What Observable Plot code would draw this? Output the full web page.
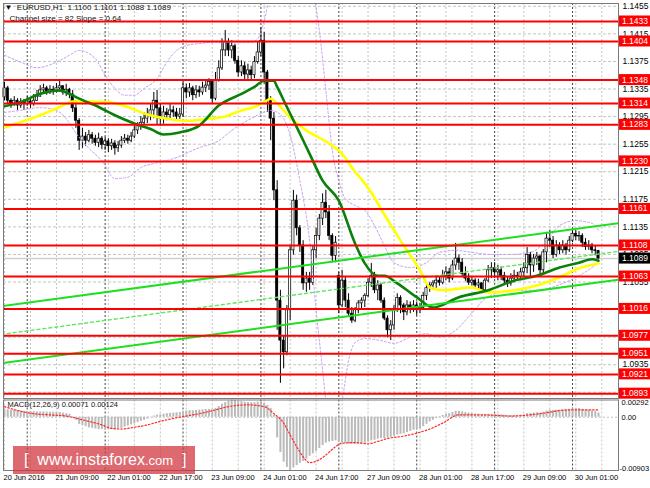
<!DOCTYPE html>
<html>
<head>
<meta charset="utf-8">
<script src="https://cdn.jsdelivr.net/npm/d3@7"></script>
<script src="https://cdn.jsdelivr.net/npm/@observablehq/plot@0.6"></script>
<style>
  html,body{margin:0;padding:0;background:#fff;}
  #wrap{position:relative;width:650px;height:488px;overflow:hidden;background:#fff;}
  #main,#macd{position:absolute;left:0;}
  #main{top:0;}
  #macd{top:396px;}
  #main svg,#macd svg{display:block;}
  #wm{position:absolute;left:13px;top:446px;width:182px;height:28px;background:rgba(208,48,58,0.72);color:#fff;
      font-family:"Liberation Sans",Arial,sans-serif;font-size:16px;line-height:28px;white-space:nowrap;box-sizing:border-box;padding-left:11px;}
  #wm .com{font-size:13px;}
</style>
</head>
<body>
<div id="wrap">
  <div id="main"></div>
  <div id="macd"></div>
  <div id="wm">[&nbsp;&nbsp;www.instaforex<span class="com">.com</span>&nbsp;&nbsp;]</div>
</div>
<script>
// ---- Candles, one array per trading day: [open, high, low, close] (EURUSD H1) ----
const jun20 = [
[1.1323,1.1345,1.1318,1.1336],[1.1336,1.1339,1.1314,1.1318],[1.1318,1.1321,1.1307,1.1314],[1.1314,1.1324,1.1310,1.1318],
[1.1318,1.1321,1.1304,1.1311],[1.1311,1.1321,1.1307,1.1316],[1.1316,1.1320,1.1304,1.1313]];
const jun21 = [
[1.1313,1.1324,1.1310,1.1317],[1.1317,1.1321,1.1307,1.1313],[1.1313,1.1327,1.1310,1.1318],[1.1318,1.1333,1.1317,1.1324],
[1.1324,1.1340,1.1323,1.1333],[1.1333,1.1342,1.1329,1.1336],[1.1336,1.1339,1.1326,1.1330],[1.1330,1.1340,1.1327,1.1334],
[1.1334,1.1339,1.1326,1.1331],[1.1331,1.1343,1.1329,1.1336],[1.1336,1.1347,1.1330,1.1339],[1.1339,1.1340,1.1326,1.1330],
[1.1330,1.1342,1.1324,1.1334],[1.1334,1.1336,1.1321,1.1327],[1.1327,1.1333,1.1301,1.1307],[1.1307,1.1318,1.1278,1.1289],
[1.1289,1.1292,1.1246,1.1260],[1.1260,1.1278,1.1249,1.1266],[1.1266,1.1272,1.1252,1.1260],[1.1260,1.1275,1.1257,1.1268],
[1.1268,1.1272,1.1255,1.1263],[1.1263,1.1268,1.1252,1.1257],[1.1257,1.1271,1.1250,1.1263],[1.1263,1.1266,1.1247,1.1254]];
const jun22 = [
[1.1254,1.1265,1.1246,1.1259],[1.1259,1.1263,1.1243,1.1252],[1.1252,1.1262,1.1246,1.1256],[1.1256,1.1260,1.1239,1.1249],
[1.1249,1.1259,1.1243,1.1253],[1.1253,1.1266,1.1249,1.1260],[1.1260,1.1269,1.1256,1.1263],[1.1263,1.1268,1.1255,1.1260],
[1.1260,1.1272,1.1257,1.1266],[1.1266,1.1282,1.1263,1.1275],[1.1275,1.1286,1.1269,1.1281],[1.1281,1.1295,1.1275,1.1286],
[1.1286,1.1301,1.1282,1.1292],[1.1292,1.1307,1.1285,1.1297],[1.1297,1.1314,1.1289,1.1304],[1.1304,1.1330,1.1292,1.1318],
[1.1318,1.1333,1.1282,1.1307],[1.1307,1.1313,1.1281,1.1292],[1.1292,1.1310,1.1284,1.1301],[1.1301,1.1307,1.1289,1.1297],
[1.1297,1.1313,1.1292,1.1304],[1.1304,1.1310,1.1294,1.1301],[1.1301,1.1307,1.1289,1.1295],[1.1295,1.1307,1.1291,1.1298]];
const jun23 = [
[1.1298,1.1347,1.1294,1.1336],[1.1336,1.1342,1.1321,1.1330],[1.1330,1.1343,1.1323,1.1336],[1.1336,1.1339,1.1318,1.1326],
[1.1326,1.1340,1.1321,1.1333],[1.1333,1.1339,1.1323,1.1330],[1.1330,1.1345,1.1326,1.1337],[1.1337,1.1347,1.1330,1.1340],
[1.1340,1.1350,1.1333,1.1345],[1.1345,1.1347,1.1313,1.1321],[1.1321,1.1359,1.1318,1.1347],[1.1347,1.1376,1.1345,1.1365],
[1.1365,1.1408,1.1362,1.1391],[1.1391,1.1420,1.1382,1.1403],[1.1403,1.1408,1.1382,1.1391],[1.1391,1.1405,1.1379,1.1397],
[1.1397,1.1400,1.1371,1.1376],[1.1376,1.1382,1.1352,1.1359],[1.1359,1.1376,1.1353,1.1368],[1.1368,1.1374,1.1347,1.1356],
[1.1356,1.1371,1.1349,1.1362],[1.1362,1.1368,1.1346,1.1355],[1.1355,1.1382,1.1350,1.1374],[1.1374,1.1403,1.1371,1.1388]];
const jun24 = [
[1.1388,1.1424,1.1382,1.1405],[1.1405,1.1417,1.1342,1.1359],[1.1359,1.1362,1.1301,1.1318],[1.1318,1.1324,1.1260,1.1292],
[1.1292,1.1301,1.1173,1.1188],[1.1188,1.1202,1.0985,1.1028],[1.1028,1.1043,1.0908,1.0970],[1.0970,1.0977,1.0929,1.0953],
[1.0953,1.1021,1.0948,1.1014],[1.1014,1.1108,1.0999,1.1101],[1.1101,1.1188,1.1094,1.1173],[1.1173,1.1181,1.1122,1.1133],
[1.1133,1.1137,1.1098,1.1108],[1.1108,1.1115,1.1043,1.1053],[1.1053,1.1069,1.1040,1.1060],[1.1060,1.1069,1.1043,1.1054],
[1.1054,1.1108,1.1050,1.1101],[1.1101,1.1133,1.1089,1.1122],[1.1122,1.1153,1.1115,1.1147],[1.1147,1.1183,1.1137,1.1170],
[1.1170,1.1188,1.1147,1.1156],[1.1156,1.1166,1.1115,1.1122],[1.1122,1.1125,1.1083,1.1093],[1.1093,1.1121,1.1083,1.1112]];
const jun27 = [
[1.1064,1.1069,1.1009,1.1021],[1.1021,1.1072,1.1018,1.1057],[1.1057,1.1062,1.1018,1.1028],[1.1028,1.1038,1.1004,1.1009],
[1.1009,1.1018,1.0995,1.0999],[1.0999,1.1018,1.0996,1.1014],[1.1014,1.1028,1.1009,1.1024],[1.1024,1.1032,1.1014,1.1028],
[1.1028,1.1038,1.1018,1.1035],[1.1035,1.1060,1.1032,1.1054],[1.1054,1.1082,1.1047,1.1064],[1.1064,1.1069,1.1038,1.1043],
[1.1043,1.1057,1.1028,1.1050],[1.1050,1.1053,1.1024,1.1028],[1.1028,1.1032,1.0999,1.1002],[1.1002,1.1006,1.0974,1.0985],
[1.0985,1.0999,1.0970,1.0992],[1.0992,1.1021,1.0985,1.1014],[1.1014,1.1038,1.1011,1.1032],[1.1032,1.1035,1.1009,1.1021],
[1.1021,1.1024,1.0999,1.1011],[1.1011,1.1028,1.1006,1.1021],[1.1021,1.1026,1.1009,1.1017],[1.1017,1.1028,1.1011,1.1021]];
const jun28 = [
[1.1021,1.1026,1.1006,1.1014],[1.1014,1.1024,1.1009,1.1017],[1.1017,1.1040,1.1014,1.1035],[1.1035,1.1053,1.1028,1.1046],
[1.1046,1.1054,1.1040,1.1050],[1.1050,1.1057,1.1043,1.1053],[1.1053,1.1063,1.1046,1.1057],[1.1057,1.1062,1.1049,1.1054],
[1.1054,1.1072,1.1051,1.1064],[1.1064,1.1077,1.1057,1.1069],[1.1069,1.1075,1.1054,1.1060],[1.1060,1.1086,1.1057,1.1079],
[1.1079,1.1111,1.1072,1.1089],[1.1089,1.1094,1.1072,1.1083],[1.1083,1.1089,1.1062,1.1067],[1.1067,1.1077,1.1056,1.1060],
[1.1060,1.1067,1.1050,1.1054],[1.1054,1.1063,1.1049,1.1057],[1.1057,1.1060,1.1046,1.1050],[1.1050,1.1059,1.1043,1.1053],
[1.1053,1.1054,1.1038,1.1043],[1.1043,1.1060,1.1040,1.1057],[1.1057,1.1079,1.1054,1.1072],[1.1072,1.1083,1.1060,1.1075]];
const jun29 = [
[1.1075,1.1083,1.1060,1.1069],[1.1069,1.1079,1.1057,1.1072],[1.1072,1.1077,1.1057,1.1064],[1.1064,1.1069,1.1051,1.1057],
[1.1057,1.1063,1.1047,1.1053],[1.1053,1.1067,1.1049,1.1060],[1.1060,1.1072,1.1054,1.1064],[1.1064,1.1069,1.1056,1.1062],
[1.1062,1.1075,1.1057,1.1069],[1.1069,1.1083,1.1063,1.1075],[1.1075,1.1105,1.1067,1.1094],[1.1094,1.1098,1.1062,1.1079],
[1.1079,1.1095,1.1069,1.1089],[1.1089,1.1098,1.1079,1.1092],[1.1092,1.1094,1.1062,1.1072],[1.1072,1.1102,1.1067,1.1098],
[1.1098,1.1127,1.1083,1.1118],[1.1118,1.1130,1.1105,1.1115],[1.1115,1.1121,1.1089,1.1094],[1.1094,1.1115,1.1091,1.1108],
[1.1108,1.1112,1.1095,1.1101],[1.1101,1.1115,1.1096,1.1108],[1.1108,1.1111,1.1094,1.1101],[1.1101,1.1121,1.1098,1.1115]];
const jun30 = [
[1.1115,1.1131,1.1112,1.1125],[1.1125,1.1130,1.1115,1.1121],[1.1121,1.1128,1.1114,1.1122],[1.1122,1.1125,1.1105,1.1112],
[1.1112,1.1118,1.1101,1.1106],[1.1106,1.1115,1.1101,1.1108],[1.1108,1.1111,1.1096,1.1101],[1.1101,1.1108,1.1093,1.1100],
[1.1100,1.1101,1.1088,1.1089]];

// ---- Moving averages (sampled along the curve: bar index / price) ----
const greenIdx = [0,5,11,17,20,23,29,34,40,45,49,54,60,66,73,77,80,83,84,87,90,94,98,103,108,111,115,117,121,127,132,140,149,157,164,171,177,181,183];
const greenVal = [1.1310,1.1316,1.1328,1.1333,1.1328,1.1321,1.1309,1.1297,1.1285,1.1277,1.1269,1.1272,1.1282,1.1311,1.1328,1.1338,1.1347,1.1347,1.1338,1.1309,1.1280,1.1241,1.1202,1.1173,1.1111,1.1082,1.1064,1.1064,1.1053,1.1033,1.1018,1.1033,1.1043,1.1057,1.1064,1.1076,1.1083,1.1088,1.1086];
const yellowIdx = [0,5,11,17,21,26,32,38,44,50,56,63,67,73,77,80,82,84,88,93,100,104,108,110,113,116,122,128,131,135,144,149,157,164,171,177,183];
const yellowVal = [1.1279,1.1287,1.1297,1.1309,1.1317,1.1317,1.1316,1.1309,1.1298,1.1292,1.1289,1.1292,1.1294,1.1304,1.1309,1.1316,1.1321,1.1314,1.1294,1.1275,1.1256,1.1241,1.1215,1.1204,1.1185,1.1161,1.1115,1.1072,1.1047,1.1043,1.1047,1.1040,1.1043,1.1050,1.1062,1.1075,1.1082];
// ---- Bands (violet dotted) ----
const bbUpperIdx = [0,5,10,16,20,23,28,31,34,37,40,43,47,50,53,56,60,65,71,76,78,80,82,88,95,97,99,101,103,105,108,111,114,117,120,125,130,134,139,144,150,156,162,167,171,176,181,183];
const bbUpperVal = [1.1384,1.1374,1.1366,1.1374,1.1384,1.1391,1.1379,1.1355,1.1336,1.1326,1.1326,1.1336,1.1350,1.1374,1.1391,1.1398,1.1401,1.1403,1.1403,1.1403,1.1408,1.1434,1.1478,1.1551,1.1478,1.1420,1.1333,1.1246,1.1202,1.1176,1.1166,1.1159,1.1137,1.1108,1.1083,1.1076,1.1083,1.1098,1.1101,1.1098,1.1095,1.1095,1.1098,1.1115,1.1137,1.1144,1.1140,1.1130];
const bbLowerIdx = [0,5,11,16,19,22,26,30,34,38,42,47,52,60,66,70,74,78,82,85,88,91,94,96,98,99,101,104,106,108,111,116,120,125,130,134,139,144,149,157,164,172,177,183];
const bbLowerVal = [1.1301,1.1304,1.1308,1.1304,1.1292,1.1271,1.1249,1.1231,1.1205,1.1207,1.1221,1.1228,1.1234,1.1250,1.1260,1.1275,1.1287,1.1297,1.1304,1.1298,1.1268,1.1202,1.1115,1.1014,1.0927,1.0883,1.0839,1.0883,1.0941,1.0967,1.0973,1.0970,1.0966,1.0975,1.0980,1.0975,1.0985,1.1010,1.1034,1.1043,1.1043,1.1053,1.1064,1.1083];
// ---- Regression channel (size 82, slope 0.64) ----
const channelIdx = [-1, 190];
const channelUpper = [1.1020, 1.1141];
const channelMid = [1.0979, 1.1100];
const channelLower = [1.0937, 1.1059];
// ---- Horizontal levels ----
const levels = [1.1433,1.1404,1.1348,1.1314,1.1283,1.1230,1.1161,1.1108,1.1063,1.1016,1.0977,1.0951,1.0921,1.0893];
// price-scale labels that are not hidden under a level box
const priceTicks = [1.1455,1.1415,1.1375,1.1335,1.1295,1.1255,1.1215,1.1175,1.1135,1.1095,1.1055,1.0935];
const priceGrid = [1.1455,1.1415,1.1375,1.1335,1.1295,1.1255,1.1215,1.1175,1.1135,1.1095,1.1055,1.1015,1.0975,1.0935,1.0895];
// ---- Time axis ----
const timeLabelIdx = [0,16,32,48,64,80,96,112,128,144,160,176];
const timeLabels = ["20 Jun 2016","21 Jun 09:00","22 Jun 01:00","22 Jun 17:00","23 Jun 09:00","24 Jun 01:00","24 Jun 17:00","27 Jun 09:00","28 Jun 01:00","28 Jun 17:00","29 Jun 09:00","30 Jun 01:00"];
const daySeparators = [7,31,55,79,103,127,151,175];
// ---- MACD(12,26,9) ----
const macdHist = [
0.00125,0.00125,0.00120,0.00120,0.00115,0.00110,0.00100,
0.00100,0.00095,0.00095,0.00090,0.00090,0.00090,0.00085,0.00085,0.00085,0.00085,0.00080,0.00070,0.00060,0.00050,0.00010,-0.00050,-0.00120,-0.00140,-0.00160,-0.00180,-0.00190,-0.00200,-0.00210,-0.00210,
-0.00210,-0.00210,-0.00210,-0.00210,-0.00200,-0.00190,-0.00170,-0.00150,-0.00130,-0.00110,-0.00090,-0.00070,-0.00050,-0.00030,-0.00005,0.00020,0.00035,0.00040,0.00050,0.00060,0.00065,0.00070,0.00075,0.00080,
0.00100,0.00105,0.00110,0.00110,0.00115,0.00120,0.00125,0.00130,0.00130,0.00130,0.00150,0.00180,0.00220,0.00250,0.00270,0.00290,0.00285,0.00270,0.00265,0.00255,0.00250,0.00245,0.00245,0.00255,
0.00260,0.00240,0.00200,0.00150,0.00030,-0.00350,-0.00600,-0.00760,-0.00850,-0.00903,-0.00860,-0.00820,-0.00780,-0.00750,-0.00710,-0.00660,-0.00620,-0.00580,-0.00530,-0.00480,-0.00440,-0.00420,-0.00410,-0.00400,
-0.00420,-0.00440,-0.00450,-0.00460,-0.00460,-0.00460,-0.00460,-0.00450,-0.00440,-0.00420,-0.00400,-0.00390,-0.00370,-0.00360,-0.00360,-0.00350,-0.00340,-0.00320,-0.00300,-0.00290,-0.00280,-0.00260,-0.00240,-0.00220,
-0.00210,-0.00200,-0.00160,-0.00120,-0.00080,-0.00050,-0.00020,0.00010,0.00030,0.00050,0.00060,0.00080,0.00100,0.00100,0.00090,0.00080,0.00070,0.00060,0.00055,0.00050,0.00045,0.00045,0.00050,0.00050,
0.00045,0.00045,0.00040,0.00035,0.00030,0.00030,0.00030,0.00030,0.00035,0.00040,0.00060,0.00060,0.00070,0.00075,0.00070,0.00085,0.00105,0.00120,0.00115,0.00120,0.00120,0.00125,0.00125,0.00135,
0.00145,0.00145,0.00145,0.00135,0.00125,0.00115,0.00105,0.00095,0.00071];
const signalIdx = [0,5,9,14,19,24,30,33,36,40,44,48,52,56,60,64,70,75,80,83,86,88,90,92,94,97,99,102,104,108,112,115,118,123,127,131,135,140,147,156,165,174,183];
const signalVal = [0.00180,0.00100,0.00060,0.00040,0.00020,-0.00045,-0.00130,-0.00190,-0.00200,-0.00170,-0.00130,-0.00070,-0.00020,0.00020,0.00060,0.00110,0.00190,0.00210,0.00180,0.00060,-0.00100,-0.00300,-0.00500,-0.00670,-0.00770,-0.00720,-0.00640,-0.00500,-0.00440,-0.00430,-0.00450,-0.00410,-0.00360,-0.00320,-0.00270,-0.00200,-0.00100,0.00040,0.00040,0.00020,0.00060,0.00125,0.00124];
const macdMax = 0.00292, macdMin = -0.00903;

// ================= drawing =================
const FONT = '"Liberation Sans", Arial, sans-serif';
const candles = [jun20,jun21,jun22,jun23,jun24,jun27,jun28,jun29,jun30].flat()
  .map((d,i)=>({i, o:d[0], h:d[1], l:d[2], c:d[3]}));
const last = candles[candles.length-1];
const xDomain = [-0.31, 189.16];
const gridIdx = d3.range(0, 190, 8);
const f4 = v => v.toFixed(4);

const main = Plot.plot({
  width:650, height:400, marginTop:3, marginBottom:2, marginLeft:3, marginRight:32,
  x:{domain:xDomain, axis:null},
  y:{domain:[1.0886, 1.14591], axis:null},
  style:{fontFamily:FONT, background:"transparent", overflow:"visible"},
  marks:[
    Plot.ruleY(priceGrid, {stroke:"#c4c4c4", strokeDasharray:"3,2"}),
    Plot.ruleX(gridIdx, {stroke:"#c4c4c4", strokeDasharray:"2,2"}),
    Plot.ruleX(daySeparators, {stroke:"#444", strokeDasharray:"2,2"}),
    Plot.ruleY([last.c], {stroke:"#cfcfcf", strokeWidth:1.5}),
    Plot.ruleX(candles, {x:"i", y1:"l", y2:"h", stroke:"#000", strokeWidth:1}),
    Plot.rect(candles, {x1:d=>d.i-0.34, x2:d=>d.i+0.34, y1:"o", y2:"c",
      fill:d=>d.c<d.o?"#000000":"#ffffff", stroke:"#000", strokeWidth:0.7}),
    Plot.line(bbUpperVal, {x:bbUpperIdx, y:bbUpperVal, stroke:"#c79cf0", strokeWidth:1, strokeDasharray:"2,2", curve:"monotone-x", clip:true}),
    Plot.line(bbLowerVal, {x:bbLowerIdx, y:bbLowerVal, stroke:"#c79cf0", strokeWidth:1, strokeDasharray:"2,2", curve:"monotone-x", clip:true}),
    Plot.line(yellowVal, {x:yellowIdx, y:yellowVal, stroke:"#ffff00", strokeWidth:2.6, curve:"monotone-x"}),
    Plot.line(greenVal, {x:greenIdx, y:greenVal, stroke:"#0a7f0a", strokeWidth:2.6, curve:"monotone-x"}),
    Plot.line(channelUpper, {x:channelIdx, y:channelUpper, stroke:"#1fe01f", strokeWidth:2, clip:true}),
    Plot.line(channelMid, {x:channelIdx, y:channelMid, stroke:"#5fe85f", strokeWidth:1.4, strokeDasharray:"3,3", clip:true}),
    Plot.line(channelLower, {x:channelIdx, y:channelLower, stroke:"#1fe01f", strokeWidth:2, clip:true}),
    Plot.ruleY(levels, {stroke:"#ff0000", strokeWidth:2}),
    Plot.text(priceTicks, {y:d=>d, text:f4, frameAnchor:"right", dx:4, textAnchor:"start", fontSize:8.5, fill:"#000"}),
    Plot.frame({stroke:"#7a7a7a"}),
    Plot.text([`\u25BC  EURUSD,H1  ${f4(last.o)} ${f4(last.h)} ${f4(last.l)} ${f4(last.c)}`],
      {frameAnchor:"top-left", dx:1, dy:1, lineAnchor:"top", textAnchor:"start", fontSize:8, fill:"#111"}),
    Plot.text(["Channel size = 82 Slope = 0.64"],
      {frameAnchor:"top-left", dx:6, dy:12, lineAnchor:"top", textAnchor:"start", fontSize:8, fill:"#111"})
  ]
});
document.getElementById("main").appendChild(main);

// price boxes on the right scale (positions from Plot's scales)
const yS = main.scale("y"), xS = main.scale("x");
const boxX = xS.apply(xDomain[1]) + 1;
const g = d3.select(main).append("g").attr("font-family", FONT).attr("font-size", 8.5).attr("text-anchor","start");
function box(v, fill){
  const y = yS.apply(v);
  g.append("rect").attr("x", boxX).attr("y", y-5.5).attr("width", 31).attr("height", 11).attr("fill", fill);
  g.append("text").attr("x", boxX+3).attr("y", y).attr("dy","0.35em").attr("text-anchor","start").attr("fill","#fff").text(f4(v));
}
levels.forEach(v=>box(v, "#ff0000"));
box(last.c, "#000000");

const macd = Plot.plot({
  width:650, height:92, marginTop:3.5, marginBottom:18, marginLeft:3, marginRight:32,
  x:{domain:xDomain, axis:null},
  y:{domain:[macdMin, macdMax], axis:null},
  style:{fontFamily:FONT, background:"transparent", overflow:"visible"},
  marks:[
    Plot.ruleX(gridIdx, {stroke:"#c4c4c4", strokeDasharray:"2,2"}),
    Plot.ruleX(daySeparators, {stroke:"#444", strokeDasharray:"2,2"}),
    Plot.ruleY([0], {stroke:"#c0c0c0", strokeDasharray:"2,2"}),
    Plot.ruleX(macdHist, {x:(d,i)=>i, y1:0, y2:d=>d, stroke:"#bababa", strokeWidth:2}),
    Plot.line(signalVal, {x:signalIdx, y:signalVal, stroke:"#ff2a2a", strokeWidth:1.2, strokeDasharray:"1.5,2", curve:"monotone-x"}),
    Plot.frame({stroke:"#7a7a7a"}),
    Plot.text([macdMax], {y:d=>d, text:d=>d.toFixed(5), frameAnchor:"right", dx:3, textAnchor:"start", lineAnchor:"top", fontSize:7.5, fill:"#000"}),
    Plot.text([0], {y:d=>d, text:()=>"0.00", frameAnchor:"right", dx:3, textAnchor:"start", fontSize:7.5, fill:"#000"}),
    Plot.text([macdMin], {y:d=>d, text:d=>d.toFixed(5), frameAnchor:"right", dx:1, textAnchor:"start", lineAnchor:"bottom", fontSize:7.5, fill:"#000"}),
    Plot.text([`MACD(12,26,9) ${macdHist[macdHist.length-1].toFixed(5)} ${signalVal[signalVal.length-1].toFixed(5)}`],
      {frameAnchor:"top-left", dx:4, dy:2, lineAnchor:"top", textAnchor:"start", fontSize:7.5, fill:"#111"}),
    Plot.text(timeLabels, {x:timeLabelIdx, text:timeLabels, frameAnchor:"bottom", dy:9, dx:-1, textAnchor:"start", fontSize:7.5, fill:"#000"})
  ]
});
document.getElementById("macd").appendChild(macd);
</script>
</body>
</html>
